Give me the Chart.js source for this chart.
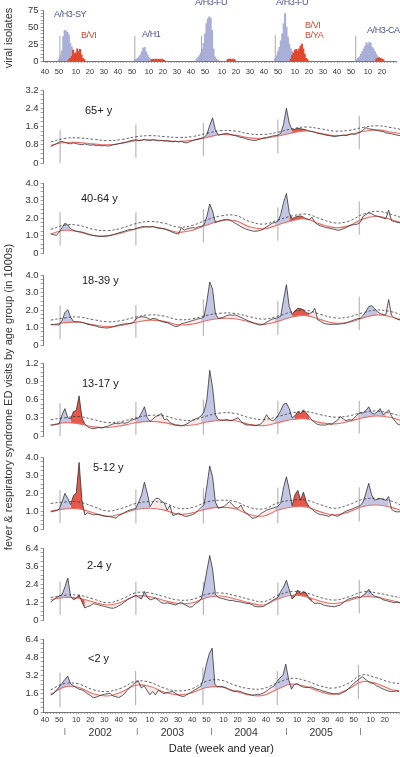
<!DOCTYPE html>
<html>
<head>
<meta charset="utf-8">
<script src="https://cdn.jsdelivr.net/npm/chart.js@4.4.1/dist/chart.umd.min.js"></script>
<style>
  body { margin: 0; background: #fff; }
  #wrap { position: relative; width: 400px; height: 757px; overflow: hidden; font-family: "Liberation Sans", Arial, sans-serif; }
  #wrap canvas { position: absolute; left: 0; }
  .lbl { position: absolute; font-size: 11px; color: #222; white-space: nowrap; line-height: 1; }
  .ann { position: absolute; font-size: 9px; letter-spacing: -0.4px; white-space: nowrap; line-height: 1; }
  .vt { position: absolute; font-size: 11px; color: #333; white-space: nowrap; line-height: 1; transform: translate(-50%, -50%) rotate(-90deg); }
</style>
</head>
<body>
<div id="wrap"></div>
<script>
// x axis = weeks counted from week 40 of 2001
const weekTicks  = [0, 10, 22, 32, 42, 52, 62, 74, 84, 94, 104, 114, 126, 136, 146, 156, 166, 178, 188, 198, 208, 218, 230, 240];
const weekLabels = ['40', '50', '10', '20', '30', '40', '50', '10', '20', '30', '40', '50', '10', '20', '30', '40', '50', '10', '20', '30', '40', '50', '10', '20'];
const yearLabels = ['2002', '2003', '2004', '2005'];
const yearMid    = [39, 90, 142, 195];
const yearBreaks = [14, 65, 117.5, 170.5, 223];
const markerWeeks = [10.6, 64, 111.5, 164, 221.3];

// viral isolates per week (start week of each season + weekly counts)
const fluAStart = [10, 64, 108, 164, 222];
const fluA = [
  [3, 8, 15, 36, 45, 44, 42, 38, 26, 21, 16, 12, 10, 8, 5, 4, 2],
  [2, 3, 4, 6, 9, 14, 19, 20, 14, 9, 5, 3, 2, 1],
  [3, 5, 8, 12, 18, 26, 40, 55, 62, 65, 63, 45, 18, 6, 3, 2],
  [4, 8, 14, 20, 30, 40, 55, 70, 50, 35, 25, 18, 14, 10, 8, 6, 4, 3],
  [2, 4, 6, 10, 14, 18, 22, 27, 24, 28, 26, 20, 18, 14, 10, 6, 4, 3]
];
const fluBStart = [17, 76, 130, 175, 236];
const fluB = [
  [2, 4, 7, 16, 10, 12, 18, 14, 17, 9, 4, 2],
  [2, 3, 2, 3, 2, 3, 2, 3, 2, 1],
  [2, 3, 3, 2, 3, 2],
  [3, 8, 12, 16, 17, 15, 18, 22, 25, 18, 10, 4, 2],
  [3, 4, 5, 4, 3, 2]
];
const isoMark = [37, 37, 37, 38, 37];
const isoTicks = ['0', '25', '50', '75'];

// observed visits: weeks 4, 6, ... 250
const obsWeeks = Array.from({ length: 124 }, (_, i) => 4 + 2 * i);
// baseline / threshold weeks
const baseWeeks = [4, 14, 24, 34, 44, 54, 64, 74, 84, 94, 104, 114, 124, 134, 144, 154, 164, 174, 184, 194, 204, 214, 224, 234, 244, 250];

const obs65 = [
  0.72, 0.78, 0.85, 0.92, 0.95, 0.9, 0.86, 0.84, 0.88, 0.85,
  0.82, 0.8, 0.84, 0.8, 0.78, 0.8, 0.76, 0.78, 0.75, 0.77,
  0.74, 0.76, 0.8, 0.82, 0.85, 0.88, 0.9, 0.94, 0.97, 1.0,
  1.02, 0.98, 1.0, 1.04, 1.0, 0.98, 1.02, 1.0, 0.97, 0.99,
  0.96, 0.98, 0.95, 0.93, 0.96, 0.92, 0.95, 0.9, 0.88, 0.94,
  0.98, 1.02, 1.05, 1.08, 1.12, 1.25, 1.65, 1.98, 1.45, 1.22,
  1.25, 1.28, 1.3, 1.26, 1.22, 1.2, 1.16, 1.12, 1.1, 1.05,
  1.02, 1.0, 0.98, 1.02, 1.05, 1.1, 1.12, 1.15, 1.18, 1.2,
  1.22, 1.3, 1.7, 2.4, 1.75, 1.45, 1.48, 1.52, 1.5, 1.48,
  1.45, 1.4, 1.38, 1.35, 1.3, 1.28, 1.25, 1.22, 1.2, 1.18,
  1.15, 1.18, 1.2, 1.22, 1.2, 1.24, 1.28, 1.25, 1.3, 1.35,
  1.45, 1.55, 1.5, 1.48, 1.45, 1.42, 1.4, 1.38, 1.32, 1.3,
  1.28, 1.25, 1.22, 1.2
];
const base65 = [0.78, 0.9, 0.9, 0.84, 0.8, 0.86, 0.98, 1.02, 0.98, 0.94, 1.0, 1.12, 1.25, 1.22, 1.1, 1.08, 1.18, 1.32, 1.4, 1.3, 1.2, 1.25, 1.38, 1.45, 1.35, 1.3];
const thr65  = [0.92, 1.08, 1.1, 1.04, 0.98, 1.03, 1.15, 1.2, 1.16, 1.12, 1.16, 1.3, 1.42, 1.4, 1.28, 1.25, 1.35, 1.5, 1.58, 1.5, 1.4, 1.43, 1.56, 1.63, 1.55, 1.48];
const mark65 = [[0, 1.44], [0.23, 1.69], [0.31, 1.76], [0.42, 1.91], [0.61, 2.07]];

const obs4064 = [
  1.08, 1.05, 1.0, 1.2, 1.45, 1.7, 1.6, 1.38, 1.3, 1.25,
  1.22, 1.2, 1.15, 1.1, 1.05, 1.0, 0.98, 0.95, 0.95, 0.96,
  0.98, 1.0, 1.05, 1.1, 1.15, 1.2, 1.25, 1.3, 1.35, 1.33,
  1.4, 1.45, 1.5, 1.52, 1.5, 1.48, 1.52, 1.45, 1.42, 1.4,
  1.38, 1.32, 1.25, 1.18, 1.12, 1.08, 1.45, 1.3, 1.38, 1.42,
  1.45, 1.42, 1.5, 1.52, 1.6, 2.1, 2.8, 2.4, 1.75, 1.8,
  1.85, 1.9, 1.92, 1.88, 1.8, 1.7, 1.6, 1.5, 1.42, 1.35,
  1.3, 1.26, 1.24, 1.26, 1.3, 1.38, 1.5, 1.6, 1.7, 1.75,
  1.8, 2.2, 2.9, 3.4, 2.3, 1.95, 2.05, 2.1, 2.12, 2.05,
  1.95, 1.9, 2.05, 1.75, 1.62, 1.55, 1.5, 1.45, 1.42, 1.38,
  1.35, 1.3, 1.32, 1.38, 1.45, 1.55, 1.6, 1.62, 1.65, 1.75,
  2.1, 2.2, 2.3, 2.25, 2.15, 2.1, 2.05, 2.0, 1.95, 2.45,
  1.85, 1.8, 1.75, 1.72
];
const base4064 = [1.1, 1.3, 1.2, 1.0, 0.98, 1.15, 1.38, 1.5, 1.38, 1.18, 1.3, 1.6, 1.85, 1.85, 1.5, 1.38, 1.6, 1.85, 1.95, 1.65, 1.45, 1.55, 1.95, 2.1, 1.9, 1.75];
const thr4064  = [1.35, 1.6, 1.58, 1.35, 1.28, 1.42, 1.68, 1.8, 1.7, 1.48, 1.58, 1.9, 2.12, 2.15, 1.8, 1.65, 1.88, 2.12, 2.22, 1.95, 1.72, 1.82, 2.22, 2.38, 2.2, 2.05];
const mark4064 = [[0.42, 2.32], [0.42, 2.32], [0.61, 2.51], [0.7, 2.61], [1.05, 2.95]];

const obs1839 = [
  1.18, 1.16, 1.15, 1.15, 1.4, 1.85, 2.02, 1.6, 1.35, 1.33,
  1.32, 1.3, 1.25, 1.18, 1.15, 1.12, 1.08, 1.02, 1.0, 0.98,
  0.97, 1.0, 1.04, 1.1, 1.14, 1.18, 1.2, 1.22, 1.24, 1.26,
  1.5, 1.58, 1.62, 1.6, 1.55, 1.45, 1.52, 1.5, 1.42, 1.35,
  1.3, 1.28, 1.2, 1.12, 1.05, 1.08, 1.22, 1.25, 1.3, 1.35,
  1.4, 1.45, 1.5, 1.52, 1.6, 2.5, 3.6, 3.2, 1.8, 1.52,
  1.55, 1.6, 1.68, 1.72, 1.7, 1.72, 1.65, 1.58, 1.5, 1.42,
  1.35, 1.28, 1.22, 1.16, 1.14, 1.2, 1.3, 1.4, 1.48, 1.52,
  1.55, 1.65, 2.6, 3.45, 2.2, 1.75, 1.95, 2.1, 2.08, 2.0,
  1.85, 1.8, 1.85, 2.1, 1.45, 1.35, 1.25, 1.2, 1.18, 1.18,
  1.18, 1.18, 1.2, 1.22, 1.25, 1.32, 1.38, 1.45, 1.5, 1.52,
  1.7, 1.9, 2.2, 2.25, 2.1, 1.9, 1.8, 1.75, 1.72, 2.6,
  1.7, 1.55, 1.48, 1.43
];
const base1839 = [1.15, 1.28, 1.3, 1.15, 1.05, 1.12, 1.3, 1.42, 1.35, 1.15, 1.2, 1.4, 1.52, 1.5, 1.32, 1.18, 1.35, 1.6, 1.68, 1.45, 1.25, 1.3, 1.55, 1.72, 1.6, 1.45];
const thr1839  = [1.42, 1.55, 1.6, 1.45, 1.33, 1.4, 1.6, 1.72, 1.65, 1.45, 1.5, 1.7, 1.82, 1.8, 1.62, 1.48, 1.65, 1.9, 1.98, 1.75, 1.55, 1.6, 1.85, 2.0, 1.9, 1.75];
const mark1839 = [[0.34, 2.25], [0.42, 2.29], [0.51, 2.61], [0.57, 2.51], [0.86, 2.76]];

const obs1317 = [
  0.18, 0.18, 0.19, 0.2, 0.35, 0.45, 0.3, 0.28, 0.4, 0.42,
  0.66, 0.3, 0.2, 0.15, 0.13, 0.12, 0.13, 0.14, 0.13, 0.15,
  0.16, 0.18, 0.2, 0.21, 0.2, 0.22, 0.21, 0.22, 0.25, 0.27,
  0.28, 0.3, 0.38, 0.48, 0.3, 0.24, 0.28, 0.32, 0.34, 0.37,
  0.27, 0.28, 0.22, 0.2, 0.18, 0.18, 0.17, 0.18, 0.2, 0.23,
  0.26, 0.28, 0.3, 0.33, 0.4, 0.6, 1.08, 0.8, 0.35, 0.27,
  0.26, 0.26, 0.27, 0.25, 0.26, 0.28, 0.3, 0.24, 0.2, 0.18,
  0.18, 0.18, 0.17, 0.18, 0.2, 0.25, 0.35, 0.28, 0.25, 0.27,
  0.33, 0.42, 0.52, 0.54, 0.45, 0.3, 0.33, 0.4, 0.37, 0.43,
  0.38, 0.32, 0.26, 0.22, 0.19, 0.18, 0.18, 0.18, 0.2, 0.19,
  0.23, 0.26, 0.32, 0.28, 0.25, 0.27, 0.26, 0.3, 0.35, 0.38,
  0.38, 0.42, 0.48, 0.38, 0.36, 0.4, 0.45, 0.35, 0.38, 0.43,
  0.33, 0.26, 0.2, 0.18
];
const base1317 = [0.18, 0.22, 0.2, 0.15, 0.14, 0.17, 0.22, 0.24, 0.22, 0.17, 0.18, 0.23, 0.26, 0.25, 0.19, 0.17, 0.22, 0.27, 0.28, 0.22, 0.2, 0.24, 0.3, 0.33, 0.3, 0.26];
const thr1317  = [0.27, 0.3, 0.32, 0.27, 0.22, 0.24, 0.3, 0.34, 0.33, 0.27, 0.26, 0.33, 0.38, 0.37, 0.3, 0.27, 0.32, 0.38, 0.4, 0.35, 0.31, 0.33, 0.39, 0.41, 0.37, 0.33];
const mark1317 = [[0, 0.54], [0.02, 0.56], [0.02, 0.6], [0.03, 0.58], [0.04, 0.58]];

const obs512 = [
  0.95, 0.98, 1.02, 1.1, 1.5, 1.98, 1.7, 1.35, 1.85, 2.0,
  3.7, 1.6, 0.78, 0.9, 0.85, 0.78, 0.8, 0.8, 0.76, 0.72,
  0.7, 0.68, 0.65, 0.6, 0.75, 0.82, 0.92, 1.0, 1.06, 1.1,
  1.15, 1.5, 1.9, 2.6, 2.0, 1.24, 1.5, 1.7, 1.7, 1.55,
  1.45, 1.05, 1.3, 0.75, 0.8, 0.88, 0.8, 0.72, 0.7, 0.75,
  0.8, 0.9, 1.05, 1.2, 1.35, 2.4, 3.5, 2.9, 1.5, 1.15,
  1.2, 1.24, 1.4, 1.52, 1.35, 1.2, 1.15, 1.33, 1.0, 0.88,
  0.72, 0.6, 0.62, 0.7, 0.85, 0.95, 1.05, 1.1, 1.15, 1.2,
  1.25, 1.45, 2.3, 2.9, 2.2, 1.3, 1.9, 2.15, 1.6, 2.05,
  1.5, 1.24, 1.1, 0.96, 0.85, 0.8, 0.78, 0.74, 0.7, 0.8,
  0.75, 0.7, 0.8, 0.9, 1.0, 1.05, 1.1, 1.18, 1.24, 1.3,
  1.5, 2.0, 2.54, 1.9, 1.6, 1.65, 1.7, 1.65, 1.6, 1.8,
  1.1, 0.98, 0.95, 0.96
];
const base512 = [1.0, 1.12, 1.12, 0.9, 0.7, 0.85, 1.08, 1.15, 1.05, 0.82, 0.9, 1.12, 1.2, 1.12, 0.8, 0.72, 1.05, 1.22, 1.22, 0.95, 0.78, 0.95, 1.25, 1.33, 1.2, 1.05];
const thr512  = [1.42, 1.5, 1.5, 1.25, 1.0, 1.15, 1.42, 1.52, 1.45, 1.15, 1.2, 1.5, 1.6, 1.52, 1.2, 1.12, 1.45, 1.6, 1.6, 1.35, 1.15, 1.35, 1.65, 1.7, 1.55, 1.35];
const mark512 = [[0.31, 2.17], [0.31, 2.2], [0.31, 2.26], [0.31, 2.3], [0.41, 2.31]];

const obs24 = [
  1.2, 1.35, 1.5, 1.6, 1.68, 2.2, 2.8, 1.6, 1.35, 1.45,
  1.67, 1.2, 0.8, 0.9, 0.95, 1.1, 1.05, 1.0, 0.95, 0.9,
  0.85, 0.8, 0.78, 0.85, 0.95, 1.05, 1.2, 1.35, 1.45, 1.55,
  1.65, 1.5, 1.4, 1.9, 1.5, 1.35, 1.4, 1.45, 1.3, 1.15,
  1.1, 1.15, 1.1, 1.05, 1.0, 1.1, 1.2, 1.05, 0.95, 0.85,
  0.9, 1.1, 1.2, 1.4, 2.2, 3.3, 4.3, 3.4, 1.7, 1.5,
  1.45, 1.4, 1.35, 1.3, 1.3, 1.25, 1.22, 1.2, 1.15, 1.1,
  1.1, 1.0, 0.9, 0.88, 0.88, 0.9, 1.05, 1.15, 1.3, 1.4,
  1.5, 1.9, 2.2, 2.65, 2.0, 1.4, 1.6, 2.0, 1.75, 1.9,
  1.8, 1.4, 1.25, 1.1, 1.12, 1.1, 1.0, 0.95, 0.92, 0.9,
  0.88, 0.95, 1.0, 1.15, 1.3, 1.4, 1.45, 1.5, 1.55, 1.5,
  1.65, 1.8, 2.05, 1.75, 1.6, 1.55, 1.5, 1.35, 1.3, 1.25,
  1.2, 1.15, 1.2, 1.15
];
const base24 = [1.35, 1.5, 1.45, 1.2, 1.0, 1.2, 1.6, 1.55, 1.3, 1.1, 1.15, 1.5, 1.6, 1.4, 1.15, 1.0, 1.4, 1.65, 1.55, 1.25, 1.1, 1.3, 1.55, 1.5, 1.3, 1.15];
const thr24  = [1.5, 1.65, 1.65, 1.4, 1.15, 1.4, 1.82, 1.8, 1.55, 1.33, 1.38, 1.72, 1.8, 1.62, 1.38, 1.22, 1.65, 1.9, 1.8, 1.5, 1.33, 1.55, 1.88, 1.8, 1.6, 1.5];
const mark24 = [[0.33, 2.55], [0.33, 2.55], [0.33, 2.55], [0.33, 2.5], [0.44, 2.66]];

const obs2 = [
  1.5, 1.6, 1.9, 2.2, 2.5, 2.85, 3.15, 2.5, 2.3, 2.15,
  2.0, 1.95, 1.8, 1.6, 1.45, 1.25, 1.3, 1.4, 1.5, 1.55,
  1.6, 1.65, 1.4, 1.35, 1.26, 1.4, 1.6, 1.9, 2.15, 2.4,
  2.6, 2.7, 2.1, 2.3, 1.9, 1.5, 1.8, 1.5, 1.9, 1.75,
  1.6, 1.7, 1.75, 1.8, 1.65, 1.5, 1.4, 1.35, 1.5, 1.65,
  1.8, 1.95, 2.1, 2.24, 3.0, 4.2, 5.1, 5.6, 2.4, 2.2,
  2.25, 2.2, 2.1, 1.95, 1.85, 1.8, 1.85, 1.8, 1.7, 1.6,
  1.55, 1.5, 1.5, 1.55, 1.55, 1.65, 1.8, 2.0, 2.15, 2.3,
  2.7, 3.0, 3.2, 4.2, 2.9, 2.0, 2.4, 2.5, 2.3, 2.2,
  2.15, 2.15, 2.2, 2.1, 2.0, 1.95, 1.85, 1.8, 1.7, 1.65,
  1.6, 1.58, 1.55, 1.7, 1.8, 2.0, 2.25, 2.5, 2.7, 2.9,
  3.1, 2.9, 2.7, 2.55, 2.5, 2.3, 2.2, 2.05, 1.95, 1.85,
  1.8, 1.8, 1.85, 1.8
];
const base2 = [1.55, 2.2, 2.15, 1.6, 1.4, 1.75, 2.35, 2.25, 1.75, 1.5, 1.7, 2.15, 2.2, 1.85, 1.5, 1.45, 2.0, 2.45, 2.25, 1.8, 1.55, 2.0, 2.65, 2.5, 2.0, 1.85];
const thr2  = [1.95, 2.5, 2.45, 1.95, 1.8, 2.1, 2.7, 2.6, 2.1, 1.85, 2.05, 2.7, 2.8, 2.35, 2.05, 2.05, 2.55, 2.95, 2.75, 2.3, 2.1, 2.5, 3.25, 3.0, 2.6, 2.5];
const mark2 = [[0.45, 3.44], [0.6, 3.59], [0.6, 3.89], [0.6, 3.59], [1.14, 4.13]];

// shaded excess periods (weeks): influenza A (blue), influenza B (red)
const blue65 = [[112, 122], [164, 174]],            red65 = [[174, 184]];
const blue4064 = [[10, 18], [110, 122], [162, 172]], red4064 = [[172, 186]];
const blue1839 = [[10, 20], [110, 122], [162, 174], [224, 234]], red1839 = [[174, 186]];
const blue1317 = [[10, 18], [64, 74], [110, 122], [162, 176], [222, 240]], red1317 = [[18, 28], [174, 186]];
const blue512 = [[10, 18], [64, 74], [110, 122], [162, 174], [222, 242]], red512 = [[18, 28], [174, 186]];
const blue24 = [[8, 18], [66, 74], [108, 122], [160, 174], [222, 232]], red24 = [[20, 28], [174, 188]];
const blue2 = [[8, 20], [110, 122], [162, 176]], red2 = [];

const panels = [
  { name: '65+ y',   top: 90,  bottom: 163, max: 3.2, ticks: ['0', '0.8', '1.6', '2.4', '3.2'], obs: obs65,   base: base65,   thr: thr65,   marks: mark65,   blue: blue65,   red: red65,   lx: 85, ly: 110 },
  { name: '40-64 y', top: 183, bottom: 253, max: 4.0, ticks: ['0', '1.0', '2.0', '3.0', '4.0'], obs: obs4064, base: base4064, thr: thr4064, marks: mark4064, blue: blue4064, red: red4064, lx: 81, ly: 198 },
  { name: '18-39 y', top: 275, bottom: 345, max: 4.0, ticks: ['0', '1.0', '2.0', '3.0', '4.0'], obs: obs1839, base: base1839, thr: thr1839, marks: mark1839, blue: blue1839, red: red1839, lx: 82, ly: 280 },
  { name: '13-17 y', top: 363, bottom: 436, max: 1.2, ticks: ['0', '0.3', '0.6', '0.9', '1.2'], obs: obs1317, base: base1317, thr: thr1317, marks: mark1317, blue: blue1317, red: red1317, lx: 82, ly: 383 },
  { name: '5-12 y',  top: 457, bottom: 529, max: 4.0, ticks: ['0', '1.0', '2.0', '3.0', '4.0'], obs: obs512,  base: base512,  thr: thr512,  marks: mark512,  blue: blue512,  red: red512,  lx: 93, ly: 467 },
  { name: '2-4 y',   top: 548, bottom: 620, max: 4.8, ticks: ['0', '1.2', '2.4', '3.6', '6.4'], obs: obs24,   base: base24,   thr: thr24,   marks: mark24,   blue: blue24,   red: red24,   lx: 87, ly: 565 },
  { name: '<2 y',    top: 639, bottom: 712, max: 6.4, ticks: ['0', '1.6', '3.2', '4.8', '6.4'], obs: obs2,    base: base2,    thr: thr2,    marks: mark2,    blue: blue2,    red: red2,    lx: 88, ly: 658 }
];

Chart.defaults.font.family = "'Liberation Sans', Arial, sans-serif";
const LEFT = 43.6;
const wrap = document.getElementById('wrap');

function addCanvas(top, height) {
  const cv = document.createElement('canvas');
  cv.width = 400;
  cv.height = height;
  cv.style.top = top + 'px';
  wrap.appendChild(cv);
  return cv;
}
function addText(cls, text, left, cy, color, size) {
  const d = document.createElement('div');
  d.className = cls;
  d.textContent = text;
  d.style.left = left + 'px';
  d.style.top = (cy - size / 2) + 'px';
  if (color) d.style.color = color;
  wrap.appendChild(d);
}

const pts = (xs, ys) => xs.map((x, i) => ({ x, y: ys[i] }));
const inSpan = (t, spans) => spans.some(([a, b]) => t >= a && t <= b);
const spanPts = (obs, spans) => obsWeeks.map((t, i) => ({ x: t, y: inSpan(t, spans) ? obs[i] : null }));
const markPts = (pairs) => markerWeeks.flatMap((t, i) => [{ x: t, y: pairs[i][0] }, { x: t, y: pairs[i][1] }, { x: t, y: null }]);

function yAxis(max, labels, per) {
  const n = (labels.length - 1) * per;
  return {
    min: 0, max,
    afterFit: s => { s.width = LEFT; },
    afterBuildTicks: s => { s.ticks = Array.from({ length: n + 1 }, (_, i) => ({ value: max * i / n })); },
    ticks: {
      autoSkip: false, padding: 2, color: '#333', font: { size: 9.5 },
      callback: (v, i) => (i % per === 0 ? labels[i / per] : '')
    },
    grid: { drawOnChartArea: false, tickLength: 3, color: '#777', lineWidth: 0.7 },
    border: { color: '#555', width: 0.8 }
  };
}

function weekAxis(show, height) {
  return {
    type: 'linear', min: -1, max: 250, display: show, offset: false, weight: 0,
    afterFit: s => { s.height = show ? height : 0; },
    afterBuildTicks: s => { s.ticks = Array.from({ length: 126 }, (_, i) => ({ value: i * 2 })); },
    ticks: {
      autoSkip: false, maxRotation: 0, padding: 1, color: '#333', font: { size: 7.5 },
      callback: v => { const k = weekTicks.indexOf(v); return k >= 0 ? weekLabels[k] : ''; }
    },
    grid: { drawOnChartArea: false, offset: false, tickLength: 2, color: '#777', lineWidth: 0.6 },
    border: { color: '#555', width: 0.8 }
  };
}

const common = {
  responsive: false,
  animation: false,
  events: [],
  plugins: { legend: { display: false }, tooltip: { enabled: false } }
};

// ---- viral isolates panel ----
const isoCv = addCanvas(0, 88);
const isoX = weekAxis(true, 27);
isoX.ticks.padding = 4;
new Chart(isoCv, {
  type: 'bar',
  data: {
    datasets: [
      { type: 'line', data: markPts(isoMark.map(v => [0, v])), borderColor: '#aaa', borderWidth: 1, pointRadius: 0 },
      { data: fluB.flatMap((s, k) => s.map((c, i) => ({ x: fluBStart[k] + i, y: c }))), backgroundColor: '#e0482e' },
      { data: fluA.flatMap((s, k) => s.map((c, i) => ({ x: fluAStart[k] + i, y: c }))), backgroundColor: '#a9afd6' }
    ]
  },
  options: {
    ...common,
    layout: { padding: { top: 10, bottom: 0, left: 0, right: 0 } },
    datasets: { bar: { grouped: false, barPercentage: 1, categoryPercentage: 1, borderWidth: 0 } },
    scales: { x: isoX, y: yAxis(75, isoTicks, 5) }
  }
});

// ---- age group panels ----
panels.forEach((p, idx) => {
  const last = idx === panels.length - 1;
  const top = p.top - 8;
  const height = last ? 757 - top : p.bottom - p.top + 16;
  const cv = addCanvas(top, height);
  const scales = { x: weekAxis(last, 14), y: yAxis(p.max, p.ticks, 4) };
  if (last) {
    const yearTickVals = yearBreaks.concat(yearMid).sort((a, b) => a - b);
    scales.xYear = {
      type: 'linear', min: -1, max: 250, position: 'bottom', weight: 1, offset: false,
      afterFit: s => { s.height = 31; },
      afterBuildTicks: s => { s.ticks = yearTickVals.map(v => ({ value: v })); },
      grid: { display: false, drawTicks: false },
      border: { display: false },
      ticks: {
        autoSkip: false, maxRotation: 0, padding: 1, color: '#333',
        font: c => ({ size: c.tick && yearBreaks.includes(c.tick.value) ? 7 : 10.5 }),
        callback: v => { const k = yearMid.indexOf(v); return k >= 0 ? yearLabels[k] : '|'; }
      },
      title: { display: true, text: 'Date (week and year)', color: '#222', font: { size: 11 }, padding: { top: 0, bottom: 1 } }
    };
  }
  new Chart(cv, {
    type: 'line',
    data: {
      datasets: [
        { data: pts(obsWeeks, p.obs), borderColor: '#2a2a2a', borderWidth: 0.75 },
        { data: pts(baseWeeks, p.thr), borderColor: '#333', borderWidth: 0.75, borderDash: [2.5, 2], tension: 0.4 },
        { data: pts(baseWeeks, p.base), borderColor: '#e8706a', borderWidth: 1.1, tension: 0.4 },
        { data: spanPts(p.obs, p.blue), borderColor: 'rgba(0,0,0,0)', borderWidth: 0.1, fill: 2, backgroundColor: '#c3c6e4' },
        { data: spanPts(p.obs, p.red), borderColor: 'rgba(0,0,0,0)', borderWidth: 0.1, fill: 2, backgroundColor: '#e6584a' },
        { data: pts(obsWeeks, p.obs), borderColor: 'rgba(0,0,0,0)', borderWidth: 0.1, fill: 2, backgroundColor: 'rgba(240,170,170,0.25)' },
        { data: markPts(p.marks), borderColor: '#aaa', borderWidth: 1 }
      ]
    },
    options: {
      ...common,
      elements: { point: { radius: 0 }, line: { tension: 0 } },
      layout: { padding: { top: 8, bottom: last ? 0 : 8, left: 0, right: 0 } },
      scales
    }
  });
  addText('lbl', p.name, p.lx, p.ly, null, 11);
});

// ---- texts ----
addText('vt', 'viral isolates', 8, 38, null, 0);
addText('vt', 'fever & respiratory syndrome ED visits by age group (in 1000s)', 8, 397, null, 0);
const annBlue = '#4a5494', annRed = '#d9472c';
[
  ['A/H3-SY', 54, 14, annBlue], ['B/VI', 81, 35, annRed], ['A/H1', 142, 34, annBlue],
  ['A/H3-FU', 195, 2, annBlue], ['A/H3-FU', 276, 2, annBlue], ['B/VI', 305, 25, annRed],
  ['B/YA', 305, 35, annRed], ['A/H3-CA', 367, 30, annBlue]
].forEach(a => addText('ann', a[0], a[1], a[2], a[3], 9));
</script>
</body>
</html>
